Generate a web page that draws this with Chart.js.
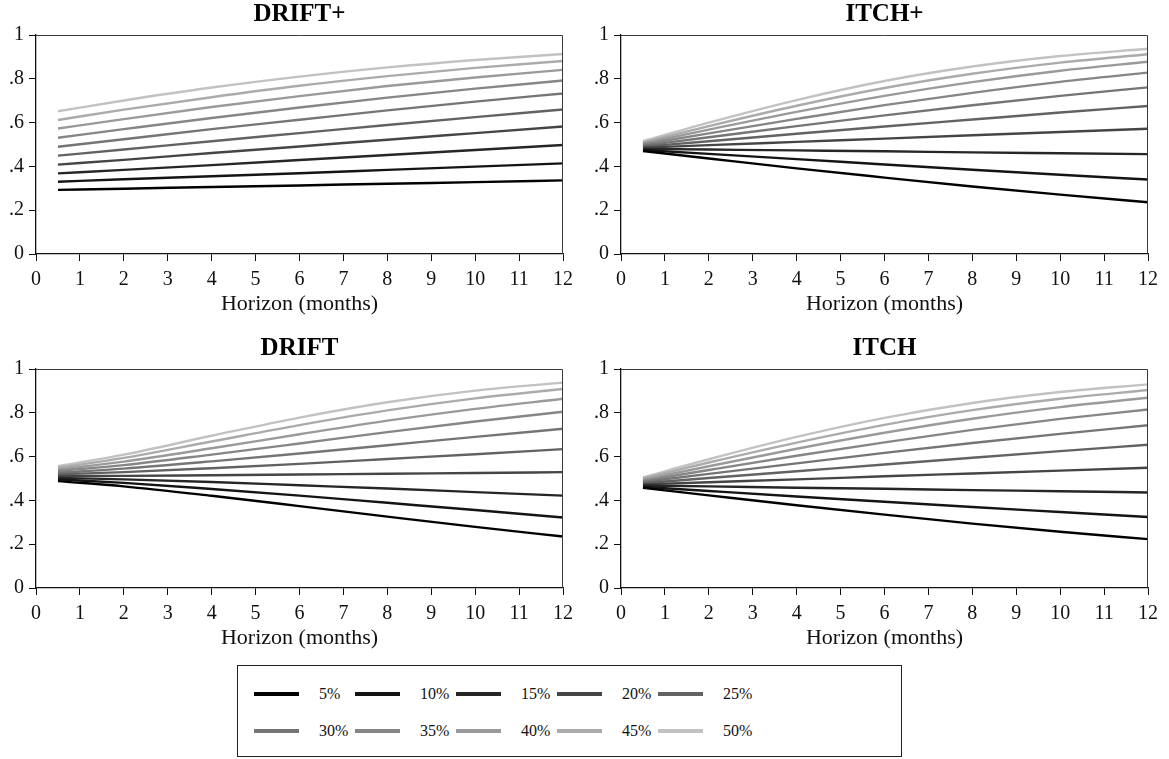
<!DOCTYPE html>
<html>
<head>
<meta charset="utf-8">
<title>Probability by horizon</title>
<script src="https://cdn.jsdelivr.net/npm/chart.js@4.4.1/dist/chart.umd.min.js"></script>
<style>
  html, body { margin: 0; padding: 0; background: #ffffff; }
  body {
    width: 1169px; height: 759px; position: relative; overflow: hidden;
    font-family: "Liberation Serif", "DejaVu Serif", serif;
  }
  canvas.panel { position: absolute; }
  #legend {
    position: absolute; left: 237px; top: 665px; width: 665px; height: 92px;
    border: 1.5px solid #222; box-sizing: border-box; background: #fff;
  }
  #legend .swatch { position: absolute; width: 45px; height: 4px; }
  #legend .name {
    position: absolute; font-size: 16px; line-height: 18px; color: #111;
    font-family: "Liberation Serif", "DejaVu Serif", serif;
  }
</style>
</head>
<body>
<canvas id="p1" class="panel" width="585" height="320" style="left:0;top:0"></canvas>
<canvas id="p2" class="panel" width="584" height="320" style="left:585px;top:0"></canvas>
<canvas id="p3" class="panel" width="585" height="320" style="left:0;top:334px"></canvas>
<canvas id="p4" class="panel" width="584" height="320" style="left:585px;top:334px"></canvas>
<div id="legend"></div>

<script>
// Horizon in months at which each curve is evaluated
const horizon = [0.5, 2, 4, 6, 8, 10, 12];

// Series labels and their grey levels (darkest = 5%)
const shares = ['5%', '10%', '15%', '20%', '25%', '30%', '35%', '40%', '45%', '50%'];
const greys = ['#000000', '#141414', '#262626', '#454545', '#626262',
               '#757575', '#868686', '#9a9a9a', '#ababab', '#c2c2c2'];

// Axis tick labels
const yTickLabels = ['0', '.2', '.4', '.6', '.8', '1'];
const xAxisTitle = 'Horizon (months)';

// Panel titles
const panelTitles = ['DRIFT+', 'ITCH+', 'DRIFT', 'ITCH'];

// One row per series (5% ... 50%), one value per horizon
const driftPlus = [
  [0.293, 0.298, 0.306, 0.313, 0.321, 0.328, 0.336],
  [0.330, 0.341, 0.355, 0.369, 0.384, 0.399, 0.414],
  [0.368, 0.384, 0.406, 0.429, 0.452, 0.475, 0.498],
  [0.408, 0.430, 0.461, 0.491, 0.522, 0.552, 0.582],
  [0.449, 0.477, 0.515, 0.552, 0.589, 0.625, 0.660],
  [0.490, 0.524, 0.570, 0.613, 0.656, 0.696, 0.733],
  [0.531, 0.570, 0.621, 0.669, 0.714, 0.755, 0.792],
  [0.573, 0.616, 0.671, 0.721, 0.767, 0.806, 0.841],
  [0.612, 0.659, 0.716, 0.768, 0.812, 0.850, 0.881],
  [0.652, 0.701, 0.760, 0.810, 0.852, 0.886, 0.913]
];

const itchPlus = [
  [0.470, 0.436, 0.391, 0.349, 0.308, 0.271, 0.236],
  [0.475, 0.457, 0.433, 0.409, 0.385, 0.362, 0.340],
  [0.480, 0.477, 0.473, 0.469, 0.464, 0.460, 0.456],
  [0.485, 0.497, 0.512, 0.527, 0.542, 0.557, 0.572],
  [0.490, 0.515, 0.549, 0.582, 0.614, 0.646, 0.676],
  [0.495, 0.533, 0.584, 0.633, 0.679, 0.722, 0.761],
  [0.500, 0.551, 0.617, 0.680, 0.736, 0.786, 0.828],
  [0.505, 0.568, 0.649, 0.722, 0.785, 0.837, 0.878],
  [0.510, 0.584, 0.677, 0.758, 0.823, 0.874, 0.912],
  [0.515, 0.600, 0.703, 0.790, 0.856, 0.904, 0.937]
];

const drift = [
  [0.488, 0.464, 0.421, 0.374, 0.326, 0.279, 0.235],
  [0.496, 0.480, 0.452, 0.422, 0.389, 0.356, 0.322],
  [0.503, 0.496, 0.484, 0.469, 0.454, 0.438, 0.422],
  [0.511, 0.512, 0.515, 0.518, 0.522, 0.525, 0.529],
  [0.519, 0.529, 0.547, 0.567, 0.589, 0.611, 0.634],
  [0.526, 0.545, 0.578, 0.614, 0.652, 0.690, 0.727],
  [0.534, 0.561, 0.609, 0.660, 0.712, 0.760, 0.805],
  [0.541, 0.577, 0.638, 0.702, 0.764, 0.818, 0.864],
  [0.549, 0.594, 0.669, 0.744, 0.811, 0.866, 0.909],
  [0.556, 0.609, 0.695, 0.778, 0.848, 0.901, 0.938]
];

const itch = [
  [0.457, 0.423, 0.378, 0.335, 0.294, 0.257, 0.223],
  [0.462, 0.443, 0.418, 0.394, 0.370, 0.347, 0.324],
  [0.468, 0.464, 0.458, 0.453, 0.447, 0.442, 0.436],
  [0.473, 0.483, 0.496, 0.510, 0.523, 0.536, 0.549],
  [0.478, 0.502, 0.533, 0.564, 0.595, 0.625, 0.654],
  [0.484, 0.521, 0.569, 0.617, 0.662, 0.704, 0.743],
  [0.489, 0.539, 0.604, 0.665, 0.722, 0.772, 0.815],
  [0.494, 0.556, 0.636, 0.709, 0.773, 0.826, 0.869],
  [0.500, 0.573, 0.664, 0.745, 0.812, 0.864, 0.904],
  [0.505, 0.588, 0.690, 0.777, 0.845, 0.895, 0.930]
];

const SERIF = '"Liberation Serif", "DejaVu Serif", serif';
const INK = '#111111';

// Thin frame along the top and right of the plot area
const framePlugin = {
  id: 'plotFrame',
  afterDatasetsDraw(chart) {
    const { ctx, chartArea: a } = chart;
    ctx.save();
    ctx.strokeStyle = '#3a3a3a';
    ctx.lineWidth = 1;
    ctx.beginPath();
    ctx.moveTo(a.left, a.top + 0.5);
    ctx.lineTo(a.right - 0.5, a.top + 0.5);
    ctx.lineTo(a.right - 0.5, a.bottom);
    ctx.stroke();
    ctx.restore();
  }
};

function buildDatasets(rows) {
  return rows.map((vals, i) => ({
    label: shares[i],
    data: vals.map((v, k) => ({ x: horizon[k], y: v })),
    borderColor: greys[i],
    backgroundColor: greys[i],
    borderWidth: 2.4,
    pointRadius: 0,
    fill: false,
    cubicInterpolationMode: 'monotone'
  }));
}

function makePanel(id, title, rows) {
  return new Chart(document.getElementById(id), {
    type: 'line',
    data: { datasets: buildDatasets(rows) },
    plugins: [framePlugin],
    options: {
      responsive: false,
      animation: false,
      events: [],
      layout: { padding: { left: 0, right: id === 'p1' || id === 'p3' ? 22 : 21, top: 0, bottom: 0 } },
      plugins: {
        legend: { display: false },
        tooltip: { enabled: false },
        title: {
          display: true,
          text: title,
          fullSize: false,
          color: '#000',
          font: { family: SERIF, size: 25, weight: 'bold', lineHeight: 1.2 },
          padding: { top: 0, bottom: 5 }
        }
      },
      scales: {
        x: {
          type: 'linear',
          min: 0,
          max: 12,
          ticks: {
            stepSize: 1,
            autoSkip: false,
            maxRotation: 0,
            color: INK,
            padding: 7,
            font: { family: SERIF, size: 20 }
          },
          grid: { display: true, drawOnChartArea: false, drawTicks: true, tickLength: 7, color: INK, lineWidth: 1 },
          border: { display: true, color: INK, width: 1.3 },
          title: {
            display: true,
            text: xAxisTitle,
            color: INK,
            font: { family: SERIF, size: 22 },
            padding: { top: 0, bottom: 3 }
          },
          afterFit(scale) { scale.height = 66; }
        },
        y: {
          type: 'linear',
          min: 0,
          max: 1,
          ticks: {
            stepSize: 0.2,
            color: INK,
            padding: 5,
            font: { family: SERIF, size: 20 },
            callback: (value, index) => yTickLabels[index]
          },
          grid: { display: true, drawOnChartArea: false, drawTicks: true, tickLength: 7, color: INK, lineWidth: 1 },
          border: { display: true, color: INK, width: 1.3 },
          afterFit(scale) { scale.width = 36; }
        }
      }
    }
  });
}

makePanel('p1', panelTitles[0], driftPlus);
makePanel('p2', panelTitles[1], itchPlus);
makePanel('p3', panelTitles[2], drift);
makePanel('p4', panelTitles[3], itch);

// Legend: five entries per row, two rows
const legendBox = document.getElementById('legend');
shares.forEach((name, i) => {
  const row = Math.floor(i / 5);
  const col = i % 5;
  const cy = row === 0 ? 28 : 65;
  const x0 = 16 + col * 101;
  const sw = document.createElement('div');
  sw.className = 'swatch';
  sw.style.left = x0 + 'px';
  sw.style.top = (cy - 2) + 'px';
  sw.style.background = greys[i];
  legendBox.appendChild(sw);
  const tx = document.createElement('div');
  tx.className = 'name';
  tx.style.left = (x0 + 65) + 'px';
  tx.style.top = (cy - 9) + 'px';
  tx.textContent = name;
  legendBox.appendChild(tx);
});
</script>
</body>
</html>
